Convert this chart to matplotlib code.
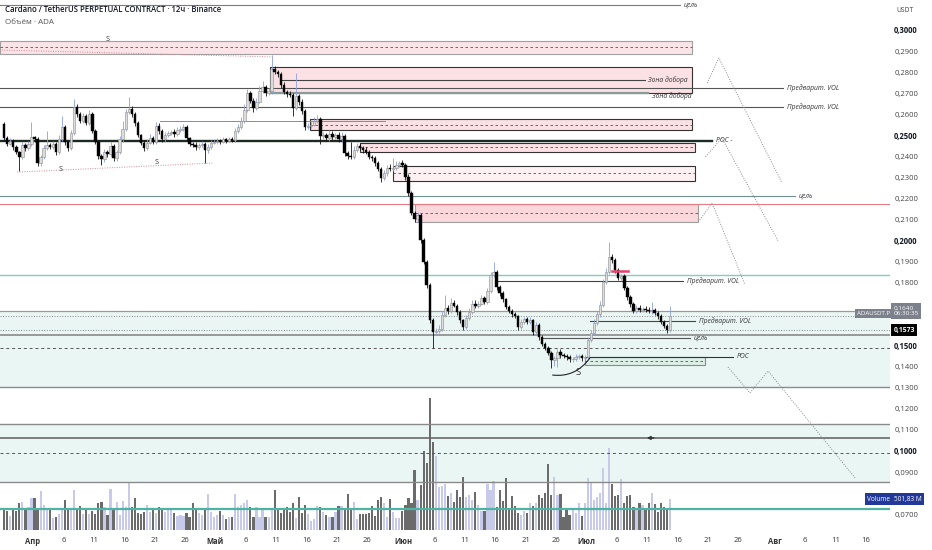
import numpy as np
import matplotlib
matplotlib.use("Agg")
import matplotlib.pyplot as plt
from matplotlib.patches import Rectangle, PathPatch
from matplotlib.path import Path
from matplotlib import transforms

plt.rcParams['font.family'] = ['Open Sans', 'DejaVu Sans']

# ---- ADA/USDT perpetual, 12h candles; x = days from 1 April
first_day = -5.0
first_open = 0.2555
closes = [
    0.2487, 0.2460, 0.2475, 0.2445, 0.2420, 0.2395, 0.2455, 0.2440, 0.2460, 0.2490,
    0.2480, 0.2370, 0.2395, 0.2440, 0.2455, 0.2445, 0.2460, 0.2420, 0.2480, 0.2540,
    0.2467, 0.2440, 0.2510, 0.2635, 0.2600, 0.2570, 0.2590, 0.2560, 0.2600, 0.2520,
    0.2470, 0.2400, 0.2385, 0.2420, 0.2410, 0.2450, 0.2390, 0.2420, 0.2480, 0.2530,
    0.2610, 0.2625, 0.2600, 0.2560, 0.2500, 0.2465, 0.2440, 0.2465, 0.2485, 0.2470,
    0.2545, 0.2520, 0.2480, 0.2500, 0.2510, 0.2515, 0.2505, 0.2525, 0.2530, 0.2540,
    0.2485, 0.2460, 0.2455, 0.2445, 0.2455, 0.2460, 0.2430, 0.2445, 0.2465, 0.2470,
    0.2475, 0.2470, 0.2480, 0.2475, 0.2482, 0.2478, 0.2520, 0.2540, 0.2570, 0.2620,
    0.2700, 0.2665, 0.2630, 0.2660, 0.2710, 0.2730, 0.2700, 0.2710, 0.2815, 0.2800,
    0.2790, 0.2740, 0.2705, 0.2695, 0.2690, 0.2630, 0.2685, 0.2660, 0.2615, 0.2540,
    0.2545, 0.2550, 0.2570, 0.2575, 0.2495, 0.2500, 0.2485, 0.2505, 0.2490, 0.2500,
    0.2480, 0.2495, 0.2415, 0.2400, 0.2395, 0.2430, 0.2450, 0.2440, 0.2430, 0.2420,
    0.2398, 0.2390, 0.2368, 0.2340, 0.2297, 0.2320, 0.2345, 0.2340, 0.2345, 0.2360,
    0.2368, 0.2360, 0.2302, 0.2226, 0.2131, 0.2100, 0.2120, 0.2002, 0.1898, 0.1789,
    0.1622, 0.1565, 0.1570, 0.1580, 0.1646, 0.1680, 0.1665, 0.1703, 0.1690, 0.1660,
    0.1620, 0.1590, 0.1630, 0.1660, 0.1700, 0.1690, 0.1700, 0.1725, 0.1710, 0.1760,
    0.1836, 0.1850, 0.1780, 0.1750, 0.1720, 0.1685, 0.1665, 0.1650, 0.1640, 0.1590,
    0.1615, 0.1625, 0.1615, 0.1620, 0.1565, 0.1600, 0.1540, 0.1510, 0.1490, 0.1466,
    0.1432, 0.1440, 0.1470, 0.1455, 0.1450, 0.1445, 0.1435, 0.1437, 0.1445, 0.1450,
    0.1440, 0.1445, 0.1527, 0.1560, 0.1608, 0.1650, 0.1694, 0.1803, 0.1850, 0.1922,
    0.1905, 0.1860, 0.1822, 0.1830, 0.1775, 0.1730, 0.1700, 0.1667, 0.1680, 0.1670,
    0.1675, 0.1672, 0.1665, 0.1668, 0.1655, 0.1640, 0.1613, 0.1595, 0.1575, 0.1640,
]
# wick lengths beyond the body, in units of 0.0001
up_wick = [
    10, 8, 12, 6, 9, 7, 14, 10, 12, 75,
    8, 10, 9, 12, 65, 10, 14, 8, 20, 50,
    10, 8, 15, 35, 12, 10, 14, 9, 20, 12,
    10, 8, 9, 14, 11, 18, 8, 12, 16, 40,
    15, 55, 12, 10, 9, 8, 12, 16, 20, 10,
    18, 12, 10, 14, 12, 10, 16, 14, 12, 15,
    10, 8, 9, 12, 10, 14, 10, 12, 11, 10,
    12, 9, 10, 8, 11, 10, 16, 14, 18, 30,
    20, 12, 14, 18, 22, 30, 10, 14, 65, 14,
    12, 10, 12, 9, 14, 10, 110, 12, 10, 9,
    14, 12, 18, 20, 10, 16, 12, 20, 14, 12,
    16, 22, 10, 12, 70, 18, 14, 12, 10, 12,
    10, 8, 10, 8, 9, 14, 12, 20, 45, 16,
    12, 14, 10, 12, 10, 8, 14, 10, 8, 9,
    8, 10, 14, 18, 20, 60, 14, 22, 16, 10,
    10, 9, 14, 20, 18, 16, 14, 18, 10, 16,
    14, 48, 10, 8, 10, 9, 8, 10, 9, 8,
    14, 12, 10, 16, 8, 14, 8, 10, 8, 9,
    10, 12, 14, 16, 10, 12, 9, 10, 14, 10,
    9, 12, 16, 14, 18, 16, 20, 14, 18, 71,
    16, 14, 10, 12, 10, 9, 10, 8, 14, 12,
    10, 12, 10, 40, 10, 8, 9, 8, 7, 50,
]
down_wick = [
    12, 10, 8, 14, 10, 65, 10, 14, 8, 10,
    12, 15, 14, 10, 12, 9, 10, 14, 10, 8,
    12, 14, 10, 8, 12, 14, 10, 12, 9, 10,
    12, 14, 25, 10, 12, 8, 14, 10, 8, 10,
    8, 10, 12, 14, 10, 12, 14, 10, 8, 12,
    10, 12, 14, 10, 8, 10, 12, 10, 8, 10,
    14, 12, 10, 14, 12, 10, 60, 12, 10, 8,
    10, 12, 9, 10, 8, 12, 10, 8, 10, 12,
    10, 14, 20, 10, 8, 10, 14, 10, 12, 10,
    12, 14, 10, 12, 10, 40, 10, 14, 12, 16,
    10, 12, 8, 10, 35, 12, 14, 10, 12, 10,
    14, 10, 12, 14, 10, 8, 10, 12, 14, 10,
    12, 10, 14, 12, 17, 10, 12, 10, 8, 10,
    12, 10, 14, 16, 12, 14, 10, 14, 12, 16,
    14, 76, 12, 10, 8, 10, 12, 10, 8, 12,
    14, 16, 10, 8, 10, 12, 10, 8, 12, 10,
    8, 10, 14, 12, 10, 12, 10, 12, 10, 14,
    10, 12, 10, 12, 14, 10, 14, 12, 10, 12,
    38, 30, 40, 12, 10, 14, 12, 10, 8, 10,
    12, 10, 8, 10, 9, 10, 12, 10, 8, 10,
    12, 14, 10, 12, 10, 12, 14, 10, 12, 10,
    10, 12, 10, 14, 10, 12, 10, 12, 15, 8,
]
# volume, millions of ADA
volumes = [
    356, 308, 227, 324, 308, 437, 454, 324, 373, 518,
    518, 356, 632, 405, 324, 324, 194, 211, 259, 324,
    486, 340, 340, 648, 340, 389, 259, 324, 259, 308,
    259, 437, 454, 373, 243, 664, 340, 454, 243, 470,
    373, 761, 373, 518, 275, 259, 292, 405, 292, 324,
    275, 373, 324, 292, 324, 324, 275, 227, 243, 227,
    275, 211, 437, 324, 275, 243, 324, 583, 292, 211,
    243, 308, 243, 178, 211, 211, 583, 373, 405, 437,
    486, 373, 211, 373, 211, 324, 211, 211, 324, 648,
    340, 275, 324, 373, 292, 437, 194, 535, 275, 405,
    259, 146, 178, 389, 373, 292, 243, 211, 211, 292,
    389, 389, 340, 583, 324, 454, 178, 259, 259, 259,
    275, 389, 227, 486, 535, 437, 211, 502,
    292, 194, 194, 308, 405, 518, 437, 972, 486, 729,
    1280, 1085, 2138, 1426, 1199, 697, 713, 745, 551, 599,
    454, 648, 535, 859, 535, 567, 486, 616, 405, 308,
    308, 745, 648, 794, 373, 648, 470, 842, 356, 551,
    389, 275, 243, 308, 275, 437, 389, 437, 567, 518,
    599, 1069, 567, 859, 567, 583, 211, 324, 243, 324,
    275, 437, 227, 437, 842, 761, 486, 535, 599, 1004,
    437, 1328, 745, 551, 567, 826, 437, 551, 567, 373,
    356, 437, 405, 340, 437, 599, 421, 292, 437, 373,
    356, 501.83,
]
symbol = "ADAUSDT.P"
last_price_text = "0,1640"
countdown_text = "06:30:35"
prev_level = 0.1573
prev_level_text = "0,1573"
volume_text = "501,83 M"

date_ticks = [0, 5, 10, 15, 20, 25, 30, 35, 40, 45, 50, 55, 61, 66, 71, 76, 81, 86,
              91, 96, 101, 106, 111, 116, 122, 127, 132, 137]
date_labels = ['Апр', '6', '11', '16', '21', '26', 'Май', '6', '11', '16', '21', '26',
               'Июн', '6', '11', '16', '21', '26', 'Июл', '6', '11', '16', '21', '26',
               'Авг', '6', '11', '16']
month_names = ['Апр', 'Май', 'Июн', 'Июл', 'Авг']
# 0,1700 / 0,1600 / 0,0800 sit under the price and volume tags, so they are left out
price_ticks = [0.30, 0.29, 0.28, 0.27, 0.26, 0.25, 0.24, 0.23, 0.22, 0.21, 0.20, 0.19,
               0.18, 0.15, 0.14, 0.13, 0.12, 0.11, 0.10, 0.09, 0.07]

# ---- drawings on the chart
full_levels = [  # price, colour, width, style
    (0.2173, '#e57c86', 0.8, '-'),
    (0.1836, '#7fcfc0', 1.0, '-'),
    (0.1665, '#9a9a9a', 0.9, '-'),
    (0.1640, '#8a8a8a', 0.7, ':'),
    (0.1573, '#8a8a8a', 0.7, ':'),
    (0.1551, '#8a8a8a', 1.2, '-'),
    (0.1489, '#555555', 0.7, (0, (3, 3))),
    (0.1304, '#8a8a8a', 1.0, '-'),
    (0.1128, '#8a8a8a', 1.0, '-'),
    (0.1062, '#6a6a6a', 1.2, '-'),
    (0.0990, '#555555', 0.7, (0, (3, 3))),
    (0.0853, '#8a8a8a', 1.0, '-'),
    (0.0725, '#4fb3a3', 1.6, '-'),
]
tagged_levels = [  # price, day from, day to, colour, width, tag, tag price
    (0.3119, -5.5, 106.4, '#7a7a7a', 0.8, 'цель', 0.3119),
    (0.2724, -5.5, 123.4, '#555555', 0.8, 'Предварит. VOL', 0.2724),
    (0.2634, -5.5, 123.4, '#555555', 0.8, 'Предварит. VOL', 0.2634),
    (0.2762, 40.6, 100.6, '#444444', 0.8, 'Зона добора', 0.2762),
    (0.2701, 39.0, 101.2, '#8a9a98', 1.6, 'Зона добора', 0.2686),
    (0.2568, 20.9, 57.9, '#b07a7a', 0.7, '', 0),
    (0.2473, -5.5, 111.7, '#1d2a24', 1.7, 'POC -', 0.2473),
    (0.2211, -5.5, 125.3, '#6e8f8b', 0.8, 'цель', 0.2211),
    (0.1808, 76.3, 106.9, '#444444', 0.8, 'Предварит. VOL', 0.1808),
    (0.1618, 91.6, 108.9, '#444444', 0.8, 'Предварит. VOL', 0.1618),
    (0.1537, 83.9, 108.1, '#555555', 0.8, 'цель', 0.1537),
    (0.1447, 90.8, 115.1, '#333333', 0.8, 'POC', 0.1447),
]
zones = [  # top, bottom, day from, day to, fill, edge, dashed middle
    (0.2948, 0.2886, -5.5, 108.4, '#fbe4e7', '#a0a0a0', 0.2919),
    (0.2824, 0.2701, 39.0, 108.4, '#fbe1e4', '#333333', None),
    (0.2577, 0.2525, 45.6, 108.4, '#fbe1e4', '#333333', 0.2549),
    (0.2463, 0.2420, 53.8, 108.9, '#fbe1e4', '#333333', 0.2444),
    (0.2354, 0.2283, 59.2, 108.9, '#fdf1f3', '#333333', 0.2321),
    (0.2173, 0.2088, 62.8, 109.4, '#f9d7db', '#a0a0a0', 0.2131),
    (0.1447, 0.1409, 90.8, 110.5, '#dcefe6', '#8a8a8a', 0.1428),
]
teal_bands = [(0.1665, 0.1304), (0.1128, 0.0853)]
projections = [
    [(110.9, 0.2748), (112.8, 0.2867), (123.2, 0.2273)],
    [(110.6, 0.2397), (113.3, 0.2487), (122.6, 0.1995)],
    [(109.4, 0.2088), (111.7, 0.2178), (117.1, 0.1789)],
    [(114.3, 0.1399), (117.9, 0.1276), (120.9, 0.1380), (135.2, 0.0872)],
]
trend_dots = [
    [(-5.5, 0.2905), (39.5, 0.2872)],
    [(-2.6, 0.2325), (29.6, 0.2368)],
]
s_marks = [(12.2, 0.2955, 5.2), (4.6, 0.2335, 5.2), (20.4, 0.2372, 5.2), (89.6, 0.1372, 6.8)]

# ---- candles
n = len(closes)
t = np.array([first_day + 0.5 * i + 0.25 for i in range(n)])
c = np.array(closes)
o = np.concatenate([[first_open], c[:-1]])
hi = np.maximum(o, c) + np.array(up_wick) * 1e-4
lo = np.minimum(o, c) - np.array(down_wick) * 1e-4
up = c >= o

x_min, x_max = -5.43, 140.95
y_min, y_max = 0.06247, 0.31425
vol_top = 8590

fig = plt.figure(figsize=(9.32, 5.5), dpi=100)
ax = fig.add_axes([0, 20 / 550, 890 / 932, 530 / 550])
ax2 = ax.twinx()
ax.set_zorder(3)
ax2.set_zorder(2)
ax.patch.set_visible(False)
ax2.patch.set_visible(False)

# teal bands under the volume bars
for top, bot in teal_bands:
    ax2.add_patch(Rectangle((x_min, bot), x_max - x_min, top - bot, transform=ax.transData,
                            facecolor='#e9f6f3', edgecolor='none', zorder=0))

vol_colors = ['#c8cae9' if u else '#6b6b6b' for u in up]
ax2.bar(t, volumes, width=0.36, color=vol_colors, zorder=2)

for price, col, lw, ls in full_levels:
    ax.axhline(price, color=col, lw=lw, ls=ls, zorder=2)

for top, bot, d0, d1, fc, ec, mid in zones:
    ax.add_patch(Rectangle((d0, bot), d1 - d0, top - bot, facecolor=fc, edgecolor=ec,
                           lw=0.8, zorder=1))
    if mid is not None:
        ax.plot([d0, d1], [mid, mid], color='#555555', lw=0.6, ls=(0, (3, 3)), zorder=1.5)

for price, d0, d1, col, lw, tag, tag_p in tagged_levels:
    ax.plot([d0, d1], [price, price], color=col, lw=lw, zorder=2)
    if tag:
        ax.text(d1 + 0.6, tag_p, tag, fontsize=4.9, style='italic', color='#333333',
                va='center', ha='left', zorder=6)

for path in projections:
    xs, ys = zip(*path)
    ax.plot(xs, ys, color='#8a8a8a', lw=0.7, ls=(0, (1, 1.5)), zorder=2)
for path in trend_dots:
    xs, ys = zip(*path)
    ax.plot(xs, ys, color='#d08a94', lw=0.7, ls=(0, (1, 1.5)), zorder=2)

for d, p, fs in s_marks:
    ax.text(d, p, 'S', fontsize=fs, color='#333333', ha='center', va='center', zorder=6)

arc = Path([(85.4, 0.1361), (89.2, 0.1347), (91.6, 0.1442)],
           [Path.MOVETO, Path.CURVE3, Path.CURVE3])
ax.add_patch(PathPatch(arc, facecolor='none', edgecolor='#222222', lw=0.8, zorder=6))
ax.plot([95.2, 97.9], [0.1855, 0.1855], color='#e8406a', lw=1.8, zorder=7)
ax.annotate('', xy=(100.5, 0.1062), xytext=(102.6, 0.1062),
            arrowprops=dict(arrowstyle='-|>', color='#333333', lw=1.0, mutation_scale=5),
            zorder=6)

# candles
wick_cols = ['#8ea0dc' if u else '#111111' for u in up]
ax.vlines(t, lo, hi, colors=wick_cols, lw=0.6, zorder=4)
body_bot = np.minimum(o, c)
body_h = np.maximum(np.abs(c - o), 0.0003)
ax.bar(t[up], body_h[up], bottom=body_bot[up], width=0.4, color='#dcdcdc',
       edgecolor='#8c8c8c', linewidth=0.4, zorder=5)
ax.bar(t[~up], body_h[~up], bottom=body_bot[~up], width=0.4, color='#000000',
       edgecolor='#000000', linewidth=0.3, zorder=5)

# axes
ax.set_xlim(x_min, x_max)
ax.set_ylim(y_min, y_max)
ax2.set_ylim(0, vol_top)
ax2.set_yticks([])
for a in (ax, ax2):
    for s in a.spines.values():
        s.set_visible(False)

ax.yaxis.tick_right()
ax.set_yticks(price_ticks)
ax.set_yticklabels([f"{v:.4f}".replace('.', ',') for v in price_ticks])
ax.tick_params(axis='y', length=0, pad=3, labelsize=5.5, labelcolor='#444444')
for lab, v in zip(ax.get_yticklabels(), price_ticks):
    if round(v * 100) % 5 == 0:
        lab.set_fontweight('bold')
        lab.set_color('#131722')

ax.set_xticks(date_ticks)
ax.set_xticklabels(date_labels)
ax.tick_params(axis='x', length=0, pad=5, labelsize=5.5, labelcolor='#333333')
for lab in ax.get_xticklabels():
    if lab.get_text() in month_names:
        lab.set_fontweight('bold')

# price / volume tags on the scale
yax = ax.get_yaxis_transform()
ax.text(1.0, c[-1], symbol, transform=yax, ha='right', va='bottom', fontsize=4.4,
        color='white', zorder=10, clip_on=False,
        bbox=dict(boxstyle='square,pad=0.3', fc='#7d818c', ec='none'))
ax.text(1.004, c[-1], last_price_text + '\n' + countdown_text, transform=yax, ha='left',
        va='bottom', fontsize=4.6, color='white', zorder=10, clip_on=False, linespacing=1.2,
        bbox=dict(boxstyle='square,pad=0.35', fc='#7d818c', ec='none'))
ax.text(1.004, prev_level, prev_level_text, transform=yax, ha='left', va='center',
        fontsize=4.9, color='white', weight='bold', zorder=10, clip_on=False,
        bbox=dict(boxstyle='square,pad=0.35', fc='#000000', ec='none'))
vtr = transforms.blended_transform_factory(ax.transAxes, ax2.transData)
ax.text(1.0, volumes[-1], 'Volume', transform=vtr, ha='right', va='center', fontsize=4.7,
        color='white', zorder=10, clip_on=False,
        bbox=dict(boxstyle='square,pad=0.35', fc='#22399a', ec='none'))
ax.text(1.004, volumes[-1], volume_text, transform=vtr, ha='left', va='center',
        fontsize=4.7, color='white', zorder=10, clip_on=False,
        bbox=dict(boxstyle='square,pad=0.35', fc='#22399a', ec='none'))

fig.text(5 / 932, 1 - 10 / 550, 'Cardano / TetherUS PERPETUAL CONTRACT · 12ч · Binance',
         fontsize=5.6, weight='semibold', color='#131722', va='center')
fig.text(5 / 932, 1 - 23 / 550, 'Объём · ADA', fontsize=5.8, color='#555555', va='center')
fig.text(905 / 932, 1 - 11 / 550, 'USDT', fontsize=4.9, color='#444444', va='center',
         ha='center')

fig.savefig('out.png', dpi=100, facecolor='white')
